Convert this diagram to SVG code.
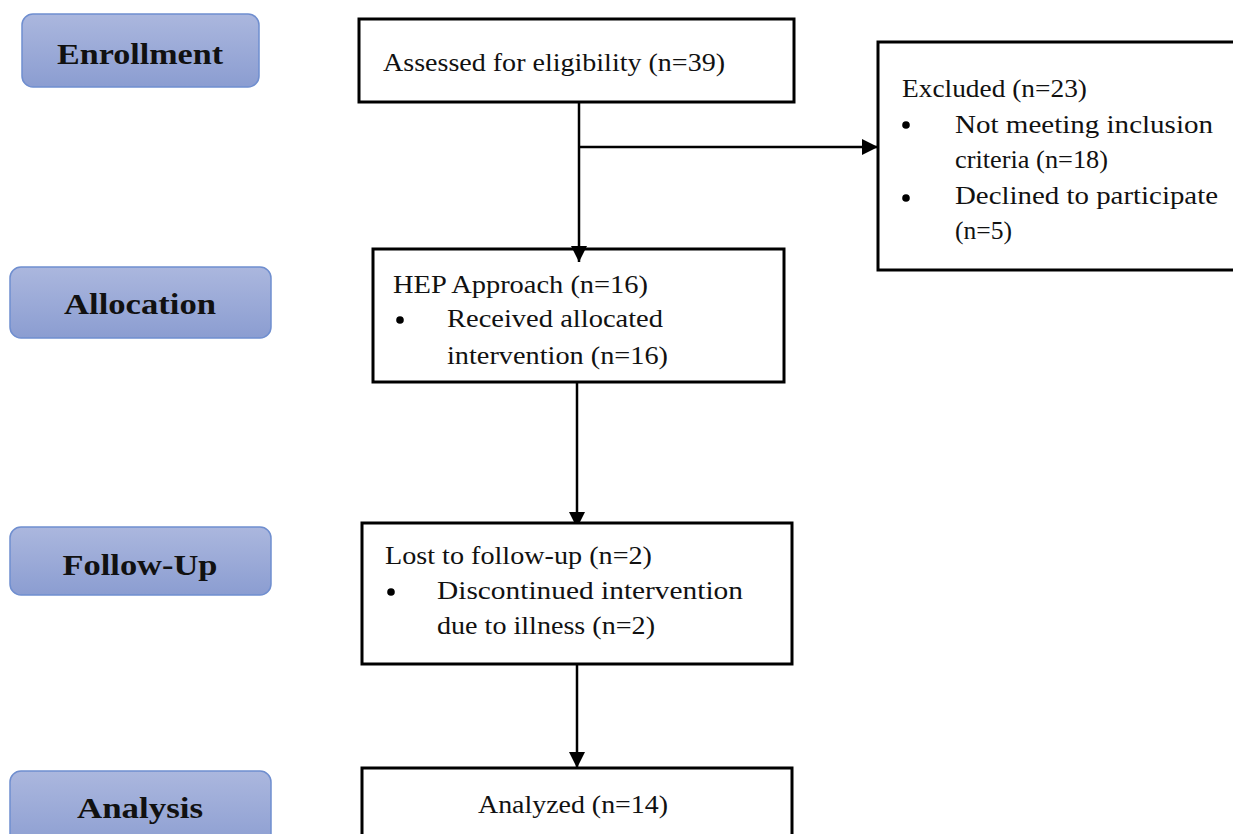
<svg xmlns="http://www.w3.org/2000/svg" width="1233" height="834" viewBox="0 0 1233 834">
<defs>
<linearGradient id="stage" x1="0" y1="0" x2="0" y2="1">
<stop offset="0" stop-color="#abb7de"/>
<stop offset="1" stop-color="#8b9dd1"/>
</linearGradient>
<marker id="arr" viewBox="0 0 16 16" refX="16" refY="8" markerWidth="16" markerHeight="16" markerUnits="userSpaceOnUse" orient="auto">
<path d="M0,0 L16,8 L0,16 Z" fill="#000"/>
</marker>
<style>
.stage{fill:url(#stage);stroke:#6f8ecf;stroke-width:1.5}
.stxt{font-family:"Liberation Serif","Times New Roman",serif;font-weight:bold;font-size:30px;fill:#111;text-anchor:middle}
.box{fill:#fff;stroke:#000;stroke-width:3}
.txt{font-family:"Liberation Serif","Times New Roman",serif;font-size:26px;fill:#111}
.con{stroke:#000;stroke-width:2.5;fill:none}
.dot{fill:#000}
</style>
</defs>
<rect width="1233" height="834" fill="#fff"/>

<g id="connectors">
<path class="con" d="M579,102 V262" marker-end="url(#arr)"/>
<path class="con" d="M579,147 H878" marker-end="url(#arr)"/>
<path class="con" d="M577,382 V528" marker-end="url(#arr)"/>
<path class="con" d="M577,657 V768" marker-end="url(#arr)"/>
</g>

<g id="stage-enrollment">
<rect class="stage" x="22" y="14" width="237" height="73" rx="11"/>
<text class="stxt" x="140" y="64" textLength="166" lengthAdjust="spacingAndGlyphs">Enrollment</text>
</g>
<g id="stage-allocation">
<rect class="stage" x="10" y="267" width="261" height="71" rx="11"/>
<text class="stxt" x="140" y="314" textLength="152" lengthAdjust="spacingAndGlyphs">Allocation</text>
</g>
<g id="stage-followup">
<rect class="stage" x="10" y="527" width="261" height="68" rx="11"/>
<text class="stxt" x="140" y="575" textLength="155" lengthAdjust="spacingAndGlyphs">Follow-Up</text>
</g>
<g id="stage-analysis">
<rect class="stage" x="10" y="771" width="261" height="80" rx="11"/>
<text class="stxt" x="140" y="818" textLength="126" lengthAdjust="spacingAndGlyphs">Analysis</text>
</g>

<g id="assessed">
<rect class="box" x="359" y="19" width="435" height="83"/>
<text class="txt" x="383" y="71" textLength="342" lengthAdjust="spacingAndGlyphs">Assessed for eligibility (n=39)</text>
</g>

<g id="excluded">
<rect class="box" x="878" y="42" width="370" height="228"/>
<text class="txt" x="902" y="97" textLength="185" lengthAdjust="spacingAndGlyphs">Excluded (n=23)</text>
<circle class="dot" cx="906" cy="125" r="3.8"/>
<text class="txt" x="955" y="133" textLength="258" lengthAdjust="spacingAndGlyphs">Not meeting inclusion</text>
<text class="txt" x="955" y="168" textLength="153" lengthAdjust="spacingAndGlyphs">criteria (n=18)</text>
<circle class="dot" cx="906" cy="198" r="3.8"/>
<text class="txt" x="955" y="204" textLength="263" lengthAdjust="spacingAndGlyphs">Declined to participate</text>
<text class="txt" x="955" y="239" textLength="57" lengthAdjust="spacingAndGlyphs">(n=5)</text>
</g>

<g id="hep">
<rect class="box" x="373" y="249" width="411" height="133" fill="none" style="fill:none"/>
<text class="txt" x="393" y="293" textLength="255" lengthAdjust="spacingAndGlyphs">HEP Approach (n=16)</text>
<circle class="dot" cx="400" cy="320" r="3.8"/>
<text class="txt" x="447" y="327" textLength="216" lengthAdjust="spacingAndGlyphs">Received allocated</text>
<text class="txt" x="447" y="364" textLength="221" lengthAdjust="spacingAndGlyphs">intervention (n=16)</text>
</g>

<g id="followup">
<rect class="box" x="362" y="523" width="430" height="141"/>
<text class="txt" x="385" y="564" textLength="267" lengthAdjust="spacingAndGlyphs">Lost to follow-up (n=2)</text>
<circle class="dot" cx="391" cy="592" r="3.8"/>
<text class="txt" x="437" y="599" textLength="306" lengthAdjust="spacingAndGlyphs">Discontinued intervention</text>
<text class="txt" x="437" y="634" textLength="218" lengthAdjust="spacingAndGlyphs">due to illness (n=2)</text>
</g>

<g id="analyzed">
<rect class="box" x="362" y="768" width="430" height="80"/>
<text class="txt" x="478" y="813" textLength="190" lengthAdjust="spacingAndGlyphs">Analyzed (n=14)</text>
</g>
</svg>
